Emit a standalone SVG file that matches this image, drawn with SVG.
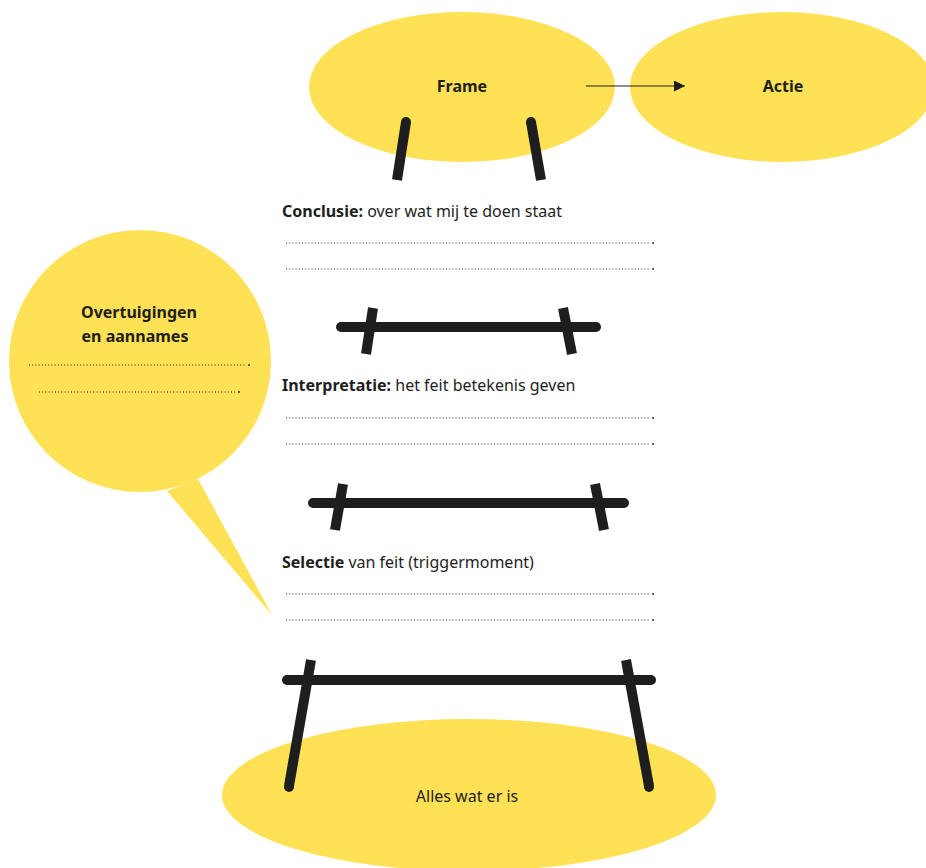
<svg xmlns="http://www.w3.org/2000/svg" width="926" height="868" viewBox="0 0 926 868">
  <defs>
    <marker id="arrow" viewBox="0 0 10 10" refX="10" refY="5" markerWidth="18" markerHeight="11" markerUnits="userSpaceOnUse" orient="auto">
      <path d="M0,0 L10,5 L0,10 Z" fill="#1e1e1e"/>
    </marker>
    <style>
      .blob { fill: #ffe155; }
      .lbl { font-family: "Noto Sans", "Open Sans", sans-serif; font-size: 16px; fill: #1e1e1e; }
      .b { font-weight: 700; }
      .dots { stroke: #1e1e1e; stroke-width: 1.2; stroke-dasharray: 1 2.2; fill: none; }
      .enddot { fill: #1e1e1e; }
      .beam { stroke: #1e1e1e; stroke-width: 10; stroke-linecap: round; fill: none; }
      .post { stroke: #1e1e1e; stroke-width: 10; stroke-linecap: butt; fill: none; }
      .link { stroke: #1e1e1e; stroke-width: 1.2; fill: none; }
    </style>
  </defs>
  <rect width="926" height="868" fill="#ffffff"/>

  <!-- bottom ground -->
  <g id="alles">
    <ellipse class="blob" cx="469" cy="795" rx="247" ry="76"/>
    <text class="lbl" x="467" y="802" text-anchor="middle">Alles wat er is</text>
  </g>

  <!-- speech bubble -->
  <g id="overtuigingen">
    <path class="blob" d="M167,491 L272,615 L198,479 Z"/>
    <circle class="blob" cx="140" cy="361" r="131"/>
    <text class="lbl b" x="139" y="318" text-anchor="middle">Overtuigingen</text>
    <text class="lbl b" x="135" y="342" text-anchor="middle">en aannames</text>
    <line class="dots" x1="29" y1="365" x2="246" y2="365"/>
    <circle class="enddot" cx="249" cy="365" r="0.9"/>
    <line class="dots" x1="39" y1="392" x2="236" y2="392"/>
    <circle class="enddot" cx="239" cy="392" r="0.9"/>
  </g>

  <!-- top ellipses -->
  <g id="frame">
    <ellipse class="blob" cx="462" cy="87" rx="153" ry="75"/>
    <text class="lbl b" x="462" y="92" text-anchor="middle">Frame</text>
  </g>
  <g id="actie">
    <ellipse class="blob" cx="782" cy="87" rx="152" ry="75"/>
    <text class="lbl b" x="783" y="92" text-anchor="middle">Actie</text>
  </g>

  <!-- ladder -->
  <g id="ladder">
    <line class="post" x1="406" y1="122" x2="397" y2="180"/>
    <line class="post" x1="531" y1="122" x2="541" y2="180"/>
    <circle cx="406" cy="122" r="5" fill="#1e1e1e"/>
    <circle cx="531" cy="122" r="5" fill="#1e1e1e"/>

    <line class="beam" x1="341" y1="327" x2="596" y2="327"/>
    <line class="post" x1="373" y1="308" x2="366" y2="354"/>
    <line class="post" x1="563" y1="308" x2="572" y2="354"/>

    <line class="beam" x1="313" y1="503" x2="624" y2="503"/>
    <line class="post" x1="343" y1="484" x2="335" y2="530"/>
    <line class="post" x1="595" y1="484" x2="604" y2="530"/>

    <line class="beam" x1="287" y1="680" x2="651" y2="680"/>
    <line class="post" x1="311" y1="660" x2="289" y2="786"/>
    <line class="post" x1="626" y1="660" x2="649" y2="786"/>
    <circle cx="289" cy="787" r="5" fill="#1e1e1e"/>
    <circle cx="649" cy="787" r="5" fill="#1e1e1e"/>
  </g>

  <!-- steps -->
  <g id="conclusie">
    <text class="lbl" x="282" y="217"><tspan class="b">Conclusie:</tspan> over wat mij te doen staat</text>
    <line class="dots" x1="286" y1="243" x2="650" y2="243"/>
    <circle class="enddot" cx="653" cy="243" r="0.9"/>
    <line class="dots" x1="286" y1="269" x2="650" y2="269"/>
    <circle class="enddot" cx="653" cy="269" r="0.9"/>
  </g>
  <g id="interpretatie">
    <text class="lbl" x="282" y="391"><tspan class="b">Interpretatie:</tspan> het feit betekenis geven</text>
    <line class="dots" x1="286" y1="418" x2="650" y2="418"/>
    <circle class="enddot" cx="653" cy="418" r="0.9"/>
    <line class="dots" x1="286" y1="444" x2="650" y2="444"/>
    <circle class="enddot" cx="653" cy="444" r="0.9"/>
  </g>
  <g id="selectie">
    <text class="lbl" x="282" y="568"><tspan class="b">Selectie</tspan> van feit (triggermoment)</text>
    <line class="dots" x1="286" y1="594" x2="650" y2="594"/>
    <circle class="enddot" cx="653" cy="594" r="0.9"/>
    <line class="dots" x1="286" y1="620" x2="650" y2="620"/>
    <circle class="enddot" cx="653" cy="620" r="0.9"/>
  </g>

  <!-- connectors -->
  <g id="connectors">
    <line class="link" x1="586" y1="86" x2="685" y2="86" marker-end="url(#arrow)"/>
  </g>
</svg>
